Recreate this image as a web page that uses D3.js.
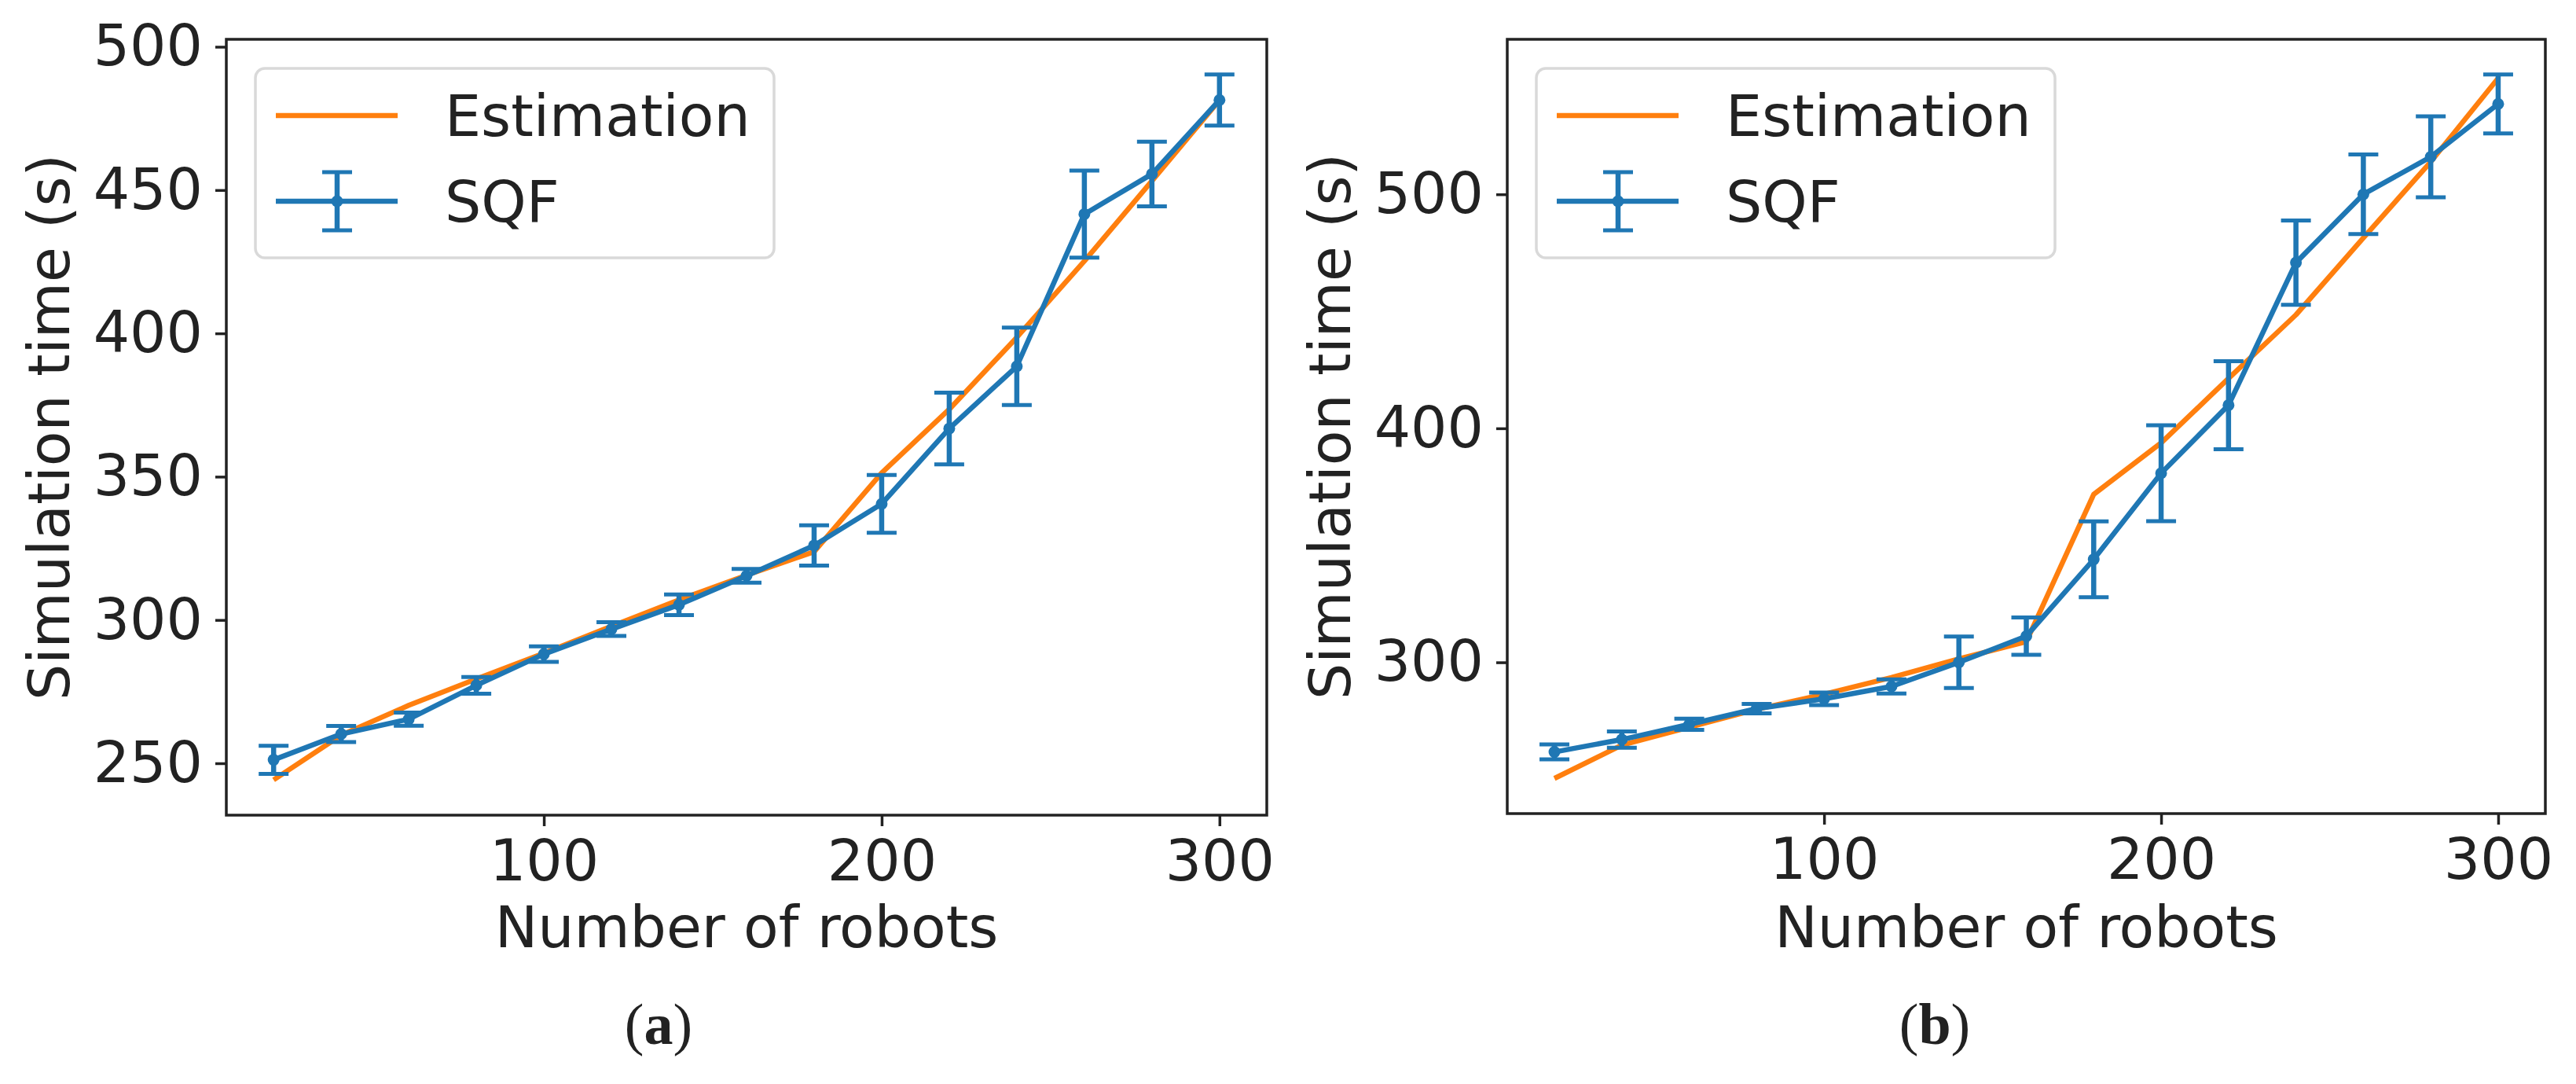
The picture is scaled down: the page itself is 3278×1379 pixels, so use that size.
<html>
  <head>
    <style>
      body { margin: 0; background: #fff; }
      svg { display: block; }
    </style>
  </head>
  <body>
    <svg id="chart"></svg>
    <script src="https://d3js.org/d3.v7.js"></script>
    <script>
      // number of robots (same for both panels)
      var robots = [20, 40, 60, 80, 100, 120, 140, 160, 180, 200, 220, 240, 260, 280, 300];

      // panel (a)
      var estA = [244.2, 259.8, 270.2, 279.4, 288.4, 297.8, 307.0, 315.6, 323.8, 351.3, 373.5, 398.6, 425.2, 453.2, 481.4];
      var sqfA = [251.2, 260.2, 265.4, 277.2, 288.1, 296.8, 305.3, 315.4, 326.0, 340.5, 366.8, 388.5, 441.6, 455.6, 481.4];
      var errA = [4.9, 2.8, 2.3, 2.9, 2.7, 2.4, 3.6, 2.4, 7.0, 10.1, 12.5, 13.5, 15.2, 11.3, 8.9];

      // panel (b)
      var estB = [250.4, 264.6, 272.3, 279.9, 286.4, 293.5, 301.5, 308.8, 371.8, 393.8, 421.3, 448.5, 481.4, 513.9, 549.6];
      var sqfB = [261.7, 267.0, 273.5, 280.2, 284.4, 289.7, 300.0, 311.2, 344.0, 380.8, 409.9, 470.8, 500.0, 516.0, 538.6];
      var errB = [3.2, 3.5, 2.4, 2.0, 2.7, 3.0, 11.0, 8.0, 16.2, 20.5, 18.8, 18.0, 17.0, 17.3, 12.6];

      var xTicks = [100, 200, 300];
      var yTicksA = [250, 300, 350, 400, 450, 500];
      var yTicksB = [300, 400, 500];

      var seriesNames = ["Estimation", "SQF"];
      var xLabel = "Number of robots";
      var yLabel = "Simulation time (s)";

      var W = 3278, H = 1379;
      var blue = "#1f77b4", orange = "#ff7f0e", ink = "#222222";
      var font = "DejaVu Sans";
      var fs = 73;
      var lw = 6.5;

      var svg = d3.select("#chart")
        .attr("width", W)
        .attr("height", H)
        .attr("viewBox", "0 0 " + W + " " + H);

      // matplotlib style 5% padding
      function padded(lo, hi) {
        var p = (hi - lo) * 0.05;
        return [lo - p, hi + p];
      }

      function drawPanel(o) {
        var g = svg.append("g");

        var x = d3.scaleLinear()
          .domain(padded(d3.min(robots), d3.max(robots)))
          .range([o.left, o.right]);

        var lo = d3.min([d3.min(o.est), d3.min(o.sqf, function(d, i) { return d - o.err[i]; })]);
        var hi = d3.max([d3.max(o.est), d3.max(o.sqf.map(function(d, i) { return d + o.err[i]; }))]);
        var y = d3.scaleLinear()
          .domain(padded(lo, hi))
          .range([o.bottom, o.top]);

        // axes
        var xAxis = g.append("g")
          .attr("transform", "translate(0," + o.bottom + ")")
          .call(d3.axisBottom(x).tickValues(xTicks).tickSize(14).tickPadding(14).tickFormat(d3.format("d")));
        var yAxis = g.append("g")
          .attr("transform", "translate(" + o.left + ",0)")
          .call(d3.axisLeft(y).tickValues(o.yTicks).tickSize(14).tickPadding(16).tickFormat(d3.format("d")));

        [xAxis, yAxis].forEach(function(a) {
          a.select(".domain").remove();
          a.selectAll(".tick line").attr("stroke", ink).attr("stroke-width", 3.5);
          a.selectAll(".tick text")
            .attr("fill", ink)
            .style("font-family", font)
            .style("font-size", fs + "px");
        });
        xAxis.selectAll(".tick text").attr("dy", "0.76em");

        // frame
        g.append("rect")
          .attr("x", o.left)
          .attr("y", o.top)
          .attr("width", o.right - o.left)
          .attr("height", o.bottom - o.top)
          .attr("fill", "none")
          .attr("stroke", ink)
          .attr("stroke-width", 3.5);

        var line = d3.line()
          .x(function(d) { return x(d[0]); })
          .y(function(d) { return y(d[1]); });

        // estimation line
        g.append("path")
          .datum(robots.map(function(r, i) { return [r, o.est[i]]; }))
          .attr("d", line)
          .attr("fill", "none")
          .attr("stroke", orange)
          .attr("stroke-width", lw)
          .attr("stroke-linejoin", "round");

        // SQF with error bars
        var pts = robots.map(function(r, i) { return { r: r, v: o.sqf[i], e: o.err[i] }; });
        g.append("path")
          .datum(pts.map(function(d) { return [d.r, d.v]; }))
          .attr("d", line)
          .attr("fill", "none")
          .attr("stroke", blue)
          .attr("stroke-width", lw)
          .attr("stroke-linejoin", "round");

        var bars = g.selectAll(".eb")
          .data(pts)
          .enter()
          .append("g")
          .attr("class", "eb");
        bars.append("line")
          .attr("x1", function(d) { return x(d.r); })
          .attr("x2", function(d) { return x(d.r); })
          .attr("y1", function(d) { return y(d.v - d.e); })
          .attr("y2", function(d) { return y(d.v + d.e); })
          .attr("stroke", blue)
          .attr("stroke-width", lw);
        [-1, 1].forEach(function(s) {
          bars.append("line")
            .attr("x1", function(d) { return x(d.r) - 19; })
            .attr("x2", function(d) { return x(d.r) + 19; })
            .attr("y1", function(d) { return y(d.v + s * d.e); })
            .attr("y2", function(d) { return y(d.v + s * d.e); })
            .attr("stroke", blue)
            .attr("stroke-width", 5);
        });
        bars.append("circle")
          .attr("cx", function(d) { return x(d.r); })
          .attr("cy", function(d) { return y(d.v); })
          .attr("r", 7.5)
          .attr("fill", blue);

        // axis labels
        g.append("text")
          .attr("x", (o.left + o.right) / 2)
          .attr("y", 1205)
          .attr("text-anchor", "middle")
          .attr("fill", ink)
          .style("font-family", font)
          .style("font-size", fs + "px")
          .text(xLabel);
        g.append("text")
          .attr("transform", "translate(" + (o.left - 200) + "," + ((o.top + o.bottom) / 2) + ") rotate(-90)")
          .attr("text-anchor", "middle")
          .attr("fill", ink)
          .style("font-family", font)
          .style("font-size", fs + "px")
          .text(yLabel);

        // legend
        var lx = o.left + 37, ly = o.top + 37;
        var leg = g.append("g").attr("transform", "translate(" + lx + "," + ly + ")");
        leg.append("rect")
          .attr("width", 660)
          .attr("height", 241)
          .attr("rx", 12)
          .attr("fill", "#fff")
          .attr("fill-opacity", 0.8)
          .attr("stroke", "#d9d9d9")
          .attr("stroke-width", 3.5);
        leg.append("line")
          .attr("x1", 26).attr("x2", 181)
          .attr("y1", 60).attr("y2", 60)
          .attr("stroke", orange)
          .attr("stroke-width", lw);
        leg.append("line")
          .attr("x1", 26).attr("x2", 181)
          .attr("y1", 169).attr("y2", 169)
          .attr("stroke", blue)
          .attr("stroke-width", lw);
        leg.append("line")
          .attr("x1", 104).attr("x2", 104)
          .attr("y1", 132).attr("y2", 206)
          .attr("stroke", blue)
          .attr("stroke-width", lw);
        [132, 206].forEach(function(cy) {
          leg.append("line")
            .attr("x1", 85).attr("x2", 123)
            .attr("y1", cy).attr("y2", cy)
            .attr("stroke", blue)
            .attr("stroke-width", 5);
        });
        leg.append("circle")
          .attr("cx", 104).attr("cy", 169).attr("r", 7.5)
          .attr("fill", blue);
        leg.selectAll(".lt")
          .data(seriesNames)
          .enter()
          .append("text")
          .attr("x", 241)
          .attr("y", function(d, i) { return i == 0 ? 86 : 195; })
          .attr("fill", ink)
          .style("font-family", font)
          .style("font-size", fs + "px")
          .text(function(d) { return d; });

        // caption
        var cap = svg.append("text")
          .attr("x", o.capX)
          .attr("y", 1328)
          .attr("text-anchor", "middle")
          .attr("fill", ink)
          .style("font-family", "Liberation Serif")
          .style("font-size", "74px");
        cap.append("tspan").text("(");
        cap.append("tspan").attr("font-weight", "bold").text(o.label);
        cap.append("tspan").text(")");
      }

      drawPanel({ left: 288, right: 1612, top: 50, bottom: 1037, est: estA, sqf: sqfA, err: errA, yTicks: yTicksA, label: "a", capX: 838 });
      drawPanel({ left: 1918, right: 3239, top: 50, bottom: 1035, est: estB, sqf: sqfB, err: errB, yTicks: yTicksB, label: "b", capX: 2462 });
    </script>
  </body>
</html>
